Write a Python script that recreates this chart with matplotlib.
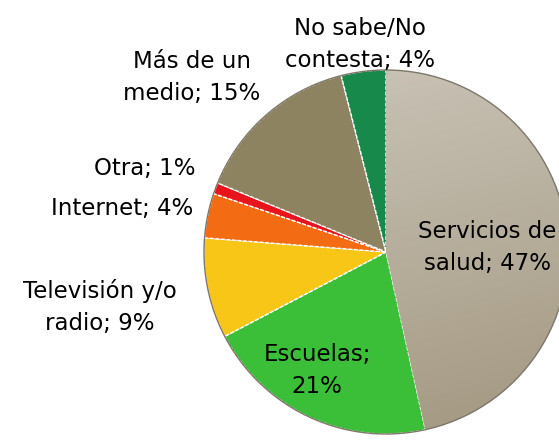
import numpy as np
import matplotlib
matplotlib.use("Agg")
import matplotlib.pyplot as plt
from matplotlib.patches import Circle

# survey answers
labels = ["Servicios de\nsalud; 47%", "Escuelas;\n21%", "Televisión y/o\nradio; 9%",
          "Internet; 4%", "Otra; 1%", "Más de un\nmedio; 15%", "No sabe/No\ncontesta; 4%"]
values = [47, 21, 9, 4, 1, 15, 4]
colors = ["#b9b2a3", "#3bbf38", "#f7c616", "#f36b12", "#e8141c", "#8e8360", "#17894a"]

fig = plt.figure(figsize=(5.59, 4.41), dpi=100)
ax = fig.add_axes([0, 0, 1, 1])

cx, cy, r = 386, 252, 182

# y axis is flipped, so counterclock in data space draws clockwise on screen
wedges, _ = ax.pie(values, colors=colors, startangle=-90, counterclock=True,
                   center=(cx, cy), radius=r, frame=True,
                   wedgeprops=dict(edgecolor="white", linewidth=1.0, linestyle=(0, (3, 1))))

# soft shading on the big slice
grad = np.linspace(0, 1, 256)[:, None] * 0.8 + np.linspace(0, 1, 256)[None, :] * 0.2
cmap = matplotlib.colors.LinearSegmentedColormap.from_list("g", ["#ccc6ba", "#a29780"])
im = ax.imshow(grad, cmap=cmap, extent=(cx - r, cx + r, cy + r, cy - r),
               origin="upper", zorder=1.5, interpolation="bilinear")
im.set_clip_path(wedges[0])

rim = Circle((cx, cy), r, fill=False, edgecolor="#7d776a", linewidth=1.0, zorder=3)
ax.add_patch(rim)

ax.set_xlim(0, 559)
ax.set_ylim(441, 0)
ax.set_aspect("equal")
ax.axis("off")

# baseline here is the last line of each label
font = dict(fontsize=16.5, color="black", linespacing=1.5, va="baseline", zorder=5)
ax.text(487, 270, labels[0], ha="center", multialignment="center", **font)
ax.text(317, 393, labels[1], ha="center", multialignment="center", **font)
ax.text(100, 330, labels[2], ha="center", multialignment="center", **font)
ax.text(193, 215, labels[3], ha="right", **font)
ax.text(195, 175, labels[4], ha="right", **font)
ax.text(192, 100, labels[5], ha="center", multialignment="center", **font)
ax.text(360, 67, labels[6], ha="center", multialignment="center", **font)

fig.savefig("out.png", dpi=100)
